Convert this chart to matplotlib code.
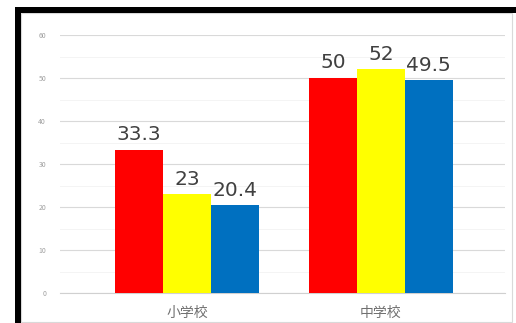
import matplotlib
matplotlib.use("Agg")
import matplotlib.pyplot as plt
from matplotlib.patches import Rectangle
import numpy as np

plt.rcParams['font.family'] = ['Noto Sans CJK JP', 'DejaVu Sans']

categories = ["小学校", "中学校"]
series_red = [33.3, 50]
series_yellow = [23, 52]
series_blue = [20.4, 49.5]
yticks = [0, 10, 20, 30, 40, 50, 60]

colors = ["#FF0000", "#FFFF00", "#0070C0"]
series = [series_red, series_yellow, series_blue]

fig = plt.figure(figsize=(5.16, 3.23), dpi=100)
fig.patch.set_facecolor("white")

# black frame (top and left) and light border
W, H = 516, 323
fig.patches.append(Rectangle((15 / W, 0), 6 / W, (H - 7) / H, transform=fig.transFigure,
                             facecolor="black", edgecolor="none", zorder=10))
fig.patches.append(Rectangle((15 / W, (H - 13) / H), 1 - 15 / W, 6 / H, transform=fig.transFigure,
                             facecolor="black", edgecolor="none", zorder=10))
fig.patches.append(Rectangle((21 / W, 1 / H), (512 - 21) / W, (H - 14) / H, transform=fig.transFigure,
                             facecolor="none", edgecolor="#D9D9D9", linewidth=0.8, zorder=9))

ax = fig.add_axes([60 / W, 30 / H, (505 - 60) / W, (293 - 35) / H])
ax.set_facecolor("white")

x = np.arange(len(categories))
bw = 0.247
offsets = [-bw, 0, bw]
for vals, col, off in zip(series, colors, offsets):
    bars = ax.bar(x + off, vals, width=bw, color=col, zorder=3)
    for b, v in zip(bars, vals):
        ax.annotate(f"{v:g}", (b.get_x() + b.get_width() / 2, v), xytext=(0, 4),
                    textcoords="offset points", ha="center", va="bottom",
                    fontsize=14.5, color="#404040", family="DejaVu Sans", zorder=4)

ax.set_xlim(-0.655, 1.64)
ax.set_ylim(0, 60)
ax.set_yticks(yticks)
ax.set_yticklabels([str(t) for t in yticks], fontsize=5, color="#A0A0A0")
ax.set_yticks(np.arange(5, 60, 5), minor=True)
ax.yaxis.grid(True, which="major", color="#D9D9D9", linewidth=0.8, zorder=0)
ax.yaxis.grid(True, which="minor", color="#F2F2F2", linewidth=0.6, zorder=0)
ax.tick_params(axis="y", which="both", length=0, pad=10)
ax.set_xticks(x)
ax.set_xticklabels(categories, fontsize=10, color="#707070")
ax.tick_params(axis="x", length=0, pad=9)
for s in ["top", "right", "left"]:
    ax.spines[s].set_visible(False)
ax.spines["bottom"].set_color("#D0D0D0")
ax.spines["bottom"].set_linewidth(0.8)

fig.savefig("out.png", dpi=100)
